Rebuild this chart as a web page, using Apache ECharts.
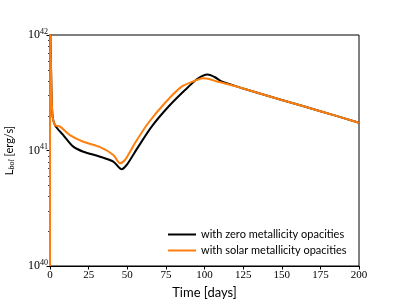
<!DOCTYPE html>
<html><head><meta charset="utf-8">
<script src="https://cdn.jsdelivr.net/npm/echarts@6/dist/echarts.min.js"></script>
<style>html,body{margin:0;padding:0;background:#fff}#c{width:399px;height:299px}</style>
</head><body><div id="c"></div>
<script>
// time in days
const zeroTime = [0, 0.1, 0.65, 1.5, 3.2, 8.6, 15.1, 21.6, 32.4, 41, 46.4, 49.6, 51.8, 57.2, 65.8, 76.6, 87.4, 96, 102, 106.5, 111, 116, 125, 150, 175, 200];
// bolometric luminosity, erg/s
const zeroLum = [1e40, 1.2e42, 5.3e41, 2.1e41, 1.66e41, 1.36e41, 1.08e41, 9.76e40, 8.84e40, 8.0e40, 6.88e40, 7.49e40, 8.27e40, 1.08e41, 1.61e41, 2.39e41, 3.34e41, 4.22e41, 4.55e41, 4.33e41, 3.96e41, 3.77e41, 3.44e41, 2.74e41, 2.19e41, 1.74e41];
const solarTime = [0, 0.1, 0.65, 1.5, 3.2, 6.5, 12.9, 21.6, 32.4, 41, 45.3, 48.5, 51.8, 55, 63.6, 74.4, 85.2, 93.9, 99, 103, 107, 111, 116, 125, 150, 175, 200];
const solarLum = [1e40, 1.2e42, 5.3e41, 2.1e41, 1.66e41, 1.61e41, 1.36e41, 1.19e41, 1.07e41, 9.15e40, 7.75e40, 8.27e40, 9.76e40, 1.16e41, 1.73e41, 2.58e41, 3.57e41, 4.02e41, 4.22e41, 4.16e41, 4.0e41, 3.88e41, 3.73e41, 3.44e41, 2.74e41, 2.19e41, 1.74e41];
const seriesNames = ['with zero metallicity opacities', 'with solar metallicity opacities'];
const minorTickValues = [2e40, 3e40, 4e40, 5e40, 6e40, 7e40, 8e40, 9e40, 2e41, 3e41, 4e41, 5e41, 6e41, 7e41, 8e41, 9e41];
const xTicks = [0, 25, 50, 75, 100, 125, 150, 175, 200];

const zip = (a, b) => a.map((v, i) => [v, b[i]]);
const chart = echarts.init(document.getElementById('c'), null, {renderer: 'canvas'});
const serif = 'Liberation Serif';
const sans = 'Lato';
chart.setOption({
  animation: false,
  grid: {left: 50, right: 40, top: 35, bottom: 33, show: true, borderColor: '#000', borderWidth: 1,
         backgroundColor: 'transparent', containLabel: false, outerBoundsMode: 'none'},
  legend: {
    data: seriesNames, orient: 'vertical', left: 163, top: 224, itemWidth: 28, itemHeight: 12, itemGap: 5,
    textStyle: {fontFamily: sans, fontSize: 11, color: '#000'}, icon: 'path://M0,5 L28,5 L28,7 L0,7 Z'
  },
  xAxis: {
    type: 'value', min: 0, max: 200, interval: 25,
    name: 'Time [days]', nameLocation: 'middle', nameGap: 19,
    nameTextStyle: {fontFamily: sans, fontSize: 13, color: '#000'},
    axisLine: {lineStyle: {color: '#000', width: 1}},
    axisTick: {show: true, length: 3.5, lineStyle: {color: '#000'}},
    axisLabel: {color: '#000', fontFamily: serif, fontSize: 11, margin: 4,
      customValues: xTicks},
    splitLine: {show: false}
  },
  yAxis: {
    type: 'log', logBase: 10, min: 1e40, max: 1e42,
    name: '{a|L}{b|bol}{a| [erg/s]}', nameLocation: 'middle', nameGap: 34, nameRotate: 90,
    nameTextStyle: {rich: {
      a: {fontFamily: sans, fontSize: 11, color: '#000'},
      b: {fontFamily: serif, fontStyle: 'italic', fontSize: 8, color: '#000', padding: [5, 0, 0, 0]}
    }},
    axisLine: {lineStyle: {color: '#000', width: 1}},
    axisTick: {show: true, length: 3.5, lineStyle: {color: '#000'}},
    axisLabel: {margin: 2, formatter: v => '{b|10}{s|' + Math.round(Math.log10(v)) + '}',
      rich: {
        b: {fontFamily: serif, fontSize: 12, color: '#000'},
        s: {fontFamily: serif, fontSize: 8, color: '#000', padding: [0, 0, 7, 0]}
      }},
    splitLine: {show: false}
  },
  series: [
    {name: seriesNames[0], type: 'line', data: zip(zeroTime, zeroLum), showSymbol: false, symbol: 'none',
     smooth: 0.3, lineStyle: {color: '#000000', width: 2}, itemStyle: {color: '#000000'}, z: 2},
    {name: seriesNames[1], type: 'line', data: zip(solarTime, solarLum), showSymbol: false, symbol: 'none',
     smooth: 0.3, lineStyle: {color: '#ff7f0e', width: 2}, itemStyle: {color: '#ff7f0e'}, z: 3},
    {type: 'custom', silent: true, clip: false, data: minorTickValues.map(v => [0, v]),
     renderItem: (params, api) => {
       const p = api.coord([api.value(0), api.value(1)]);
       const x = params.coordSys.x;
       return {type: 'line', shape: {x1: x - 2, y1: Math.round(p[1]) + 0.5, x2: x, y2: Math.round(p[1]) + 0.5},
               style: {stroke: '#000', lineWidth: 0.8}};
     }}
  ]
});
</script></body></html>
